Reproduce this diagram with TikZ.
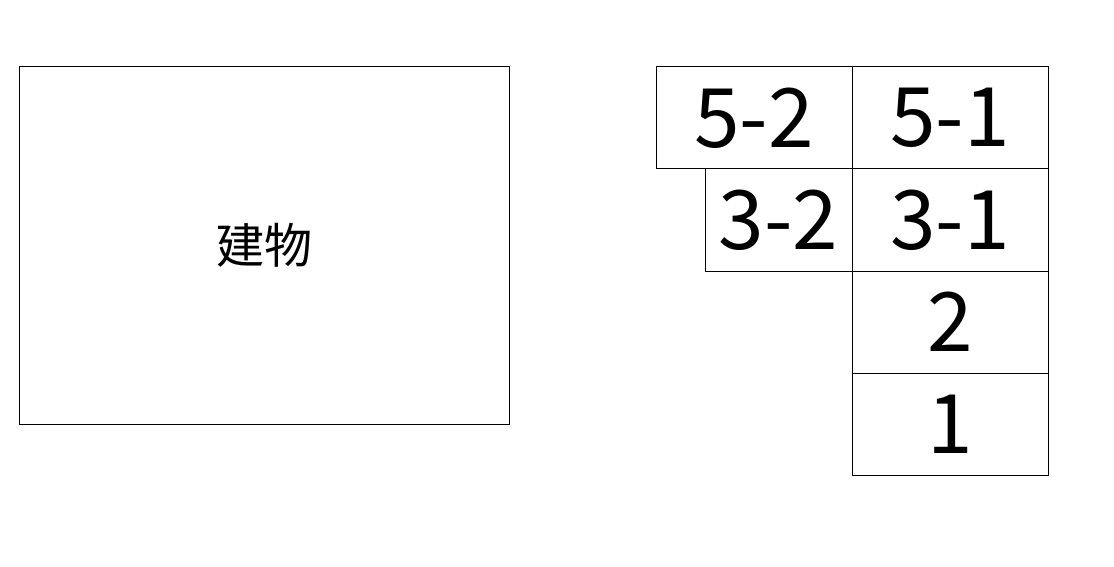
\documentclass[tikz,border=0pt]{standalone}
\usepackage{fontspec}
\setmainfont{Noto Sans CJK JP}
\begin{document}
\begin{tikzpicture}[x=1pt,y=-1pt,
  cell/.style={draw,line width=1pt,inner sep=0pt,font=\fontsize{82}{82}\selectfont},
  house/.style={draw,line width=1pt,inner sep=0pt,font=\fontsize{48}{48}\selectfont}]
\useasboundingbox (0,0) rectangle (1114,567);
\node[house,minimum width=490,minimum height=357] (b) at (264,245.5) {建物};
\node[cell,minimum width=196,minimum height=102] (a52) at (754,118) {5-2};
\node[cell,minimum width=196,minimum height=102] (a51) at (950,118) {5-1};
\node[cell,minimum width=147,minimum height=102] (a32) at (778.5,220) {3-2};
\node[cell,minimum width=196,minimum height=102] (a31) at (950,220) {3-1};
\node[cell,minimum width=196,minimum height=102] (a2) at (950,322) {2};
\node[cell,minimum width=196,minimum height=102] (a1) at (950,424) {1};
\end{tikzpicture}
\end{document}
